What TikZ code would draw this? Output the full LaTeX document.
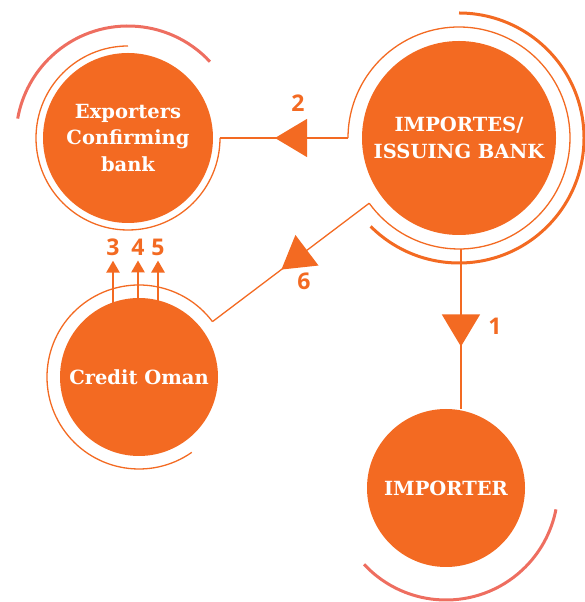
\documentclass[tikz,border=0pt]{standalone}
\usepackage{fontspec}
\setmainfont{DejaVu Serif}
\newfontfamily\numfont{Open Sans}
\usepackage{xcolor}
\usepackage{tikz}
\usetikzlibrary{arrows.meta, positioning, calc}
\usetikzlibrary{decorations.markings}
\definecolor{lc-orange}{RGB}{243,106,34}
\definecolor{lc-salmon}{RGB}{238,110,96}
\tikzstyle{bank-circle} = [circle, fill=lc-orange, text=white, inner sep=0pt, align=center, font=\bfseries\fontsize{19.5}{26.5}\selectfont]
\tikzstyle{ring} = [draw=lc-orange, line width=1.3pt]
\tikzstyle{swoosh} = [draw=lc-salmon, line width=3pt]
\tikzstyle{step-num} = [text=lc-orange, inner sep=0pt, font=\numfont\bfseries\fontsize{23}{25}\selectfont]
\tikzstyle{arrow-up} = [draw=lc-orange, line width=2.5pt, -{Triangle[length=12pt,width=13pt]}]
\tikzset{flow/.style={draw=lc-orange, line width=1.3pt, postaction={decorate},
  decoration={markings, mark=at position #1 with {\arrow{Triangle[length=32pt,width=38pt]}}}}}

\begin{document}
\begin{tikzpicture}[x=1pt, y=1pt]
        \useasboundingbox (0,0) rectangle (584,602);

        \node [bank-circle, minimum size=170pt] (exporters) at (128,464) {Exporters\\Confirming\\bank};
        \node [bank-circle, minimum size=194pt] (importes) at (459,464) {IMPORTES/\\ISSUING BANK};
        \node [bank-circle, minimum size=158pt] (credit) at (139,225) {Credit Oman};
        \node [bank-circle, minimum size=158pt] (importer) at (446,114) {IMPORTER};

        % rings round the circles
        \draw [ring] ([shift={(90:92pt)}]exporters.center) arc[start angle=90, end angle=360, radius=92pt];
        \draw [swoosh] ([shift={(43:112pt)}]exporters.center) arc[start angle=43, end angle=170, radius=112pt];
        \draw [ring] ([shift={(216:111pt)}]importes.center) arc[start angle=216, end angle=540, radius=111pt];
        \draw [swoosh, draw=lc-orange] ([shift={(-135:125pt)}]importes.center) arc[start angle=-135, end angle=90, radius=125pt];
        \draw [ring] ([shift={(37:92pt)}]credit.center) arc[start angle=37, end angle=305, radius=92pt];
        \draw [swoosh] ([shift={(-137:112pt)}]importer.center) arc[start angle=-137, end angle=-11, radius=112pt];

        \coordinate (exporters-ring) at ([shift={(0:92pt)}]exporters.center);
        \coordinate (importes-ring-w) at ([shift={(180:111pt)}]importes.center);
        \coordinate (importes-ring-sw) at ([shift={(216:111pt)}]importes.center);
        \coordinate (importes-ring-s) at ([shift={(271:111pt)}]importes.center);
        \coordinate (credit-ring) at ([shift={(37:92pt)}]credit.center);

        \draw [flow=0.57] (importes-ring-w) -- (exporters-ring);
        \draw [flow=0.56] (importes-ring-sw) -- (credit-ring);
        \draw [flow=0.61] (importes-ring-s) -- (importes-ring-s |- importer.north);

        \node [step-num] (num-1) at (495,276) {1};
        \node [step-num] (num-2) at (298,499) {2};
        \node [step-num] (num-6) at (304,321) {6};
        \node [step-num] (num-3) at (113,355) {3};
        \node [step-num] (num-4) at (138,355) {4};
        \node [step-num] (num-5) at (158,355) {5};

        \draw [arrow-up] ($(num-3.south |- credit.north)+(0,-8pt)$) -- ([yshift=-5pt]num-3.south);
        \draw [arrow-up] ($(num-4.south |- credit.north)+(0,-8pt)$) -- ([yshift=-5pt]num-4.south);
        \draw [arrow-up] ($(num-5.south |- credit.north)+(0,-8pt)$) -- ([yshift=-5pt]num-5.south);
\end{tikzpicture}
\end{document}
